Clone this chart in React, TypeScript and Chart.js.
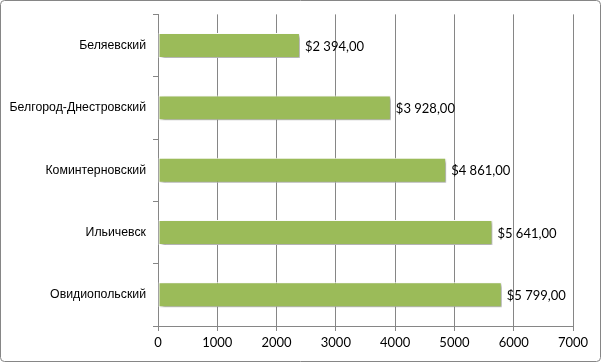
import React, { useEffect, useRef } from "react";
import { Chart, registerables } from "chart.js";

Chart.register(...registerables);

const categories = ["Беляевский", "Белгород-Днестровский", "Коминтерновский", "Ильичевск", "Овидиопольский"];
const values = [2394, 3928, 4861, 5641, 5799];
const valueLabels = ["$2 394,00", "$3 928,00", "$4 861,00", "$5 641,00", "$5 799,00"];
const xMin = 0;
const xMax = 7000;
const xStep = 1000;

const FONT = "Lato, 'Liberation Sans', Arial, sans-serif";
const FSIZE = 13;
const CAT_FONT = "'Liberation Sans', Arial, sans-serif";
const CAT_FSIZE = 12.3;
const GRID = "#868686";

export default function App() {
  const ref = useRef<HTMLCanvasElement | null>(null);

  useEffect(() => {
    if (!ref.current) return;
    const shadowPlugin = {
      id: "barShadow",
      beforeDatasetDraw(chart: any) {
        const ctx = chart.ctx;
        ctx.save();
        ctx.shadowColor = "rgba(0,0,0,0.4)";
        ctx.shadowBlur = 3;
        ctx.shadowOffsetX = 2;
        ctx.shadowOffsetY = 2;
      },
      afterDatasetDraw(chart: any) {
        chart.ctx.restore();
      },
    };
    const labelsPlugin = {
      id: "valueLabels",
      afterDatasetsDraw(chart: any) {
        const ctx = chart.ctx;
        const meta = chart.getDatasetMeta(0);
        ctx.save();
        ctx.font = `${FSIZE}px ${FONT}`;
        ctx.fillStyle = "#000";
        ctx.textAlign = "left";
        ctx.textBaseline = "middle";
        meta.data.forEach((el: any, i: number) => {
          ctx.fillText(valueLabels[i], el.x + 5, el.y + 1);
        });
        ctx.restore();
      },
    };
    const borderPlugin = {
      id: "outerBorder",
      afterDraw(chart: any) {
        const ctx = chart.ctx;
        ctx.save();
        ctx.strokeStyle = GRID;
        ctx.lineWidth = 1;
        ctx.beginPath();
        ctx.roundRect(0.5, 0.5, chart.width - 1, chart.height - 1, 4);
        ctx.stroke();
        ctx.restore();
      },
    };
    const chart = new Chart(ref.current, {
      type: "bar",
      data: {
        labels: categories,
        datasets: [
          {
            data: values,
            backgroundColor: "#9BBB59",
            borderColor: "#ffffff",
            borderWidth: 1,
            borderSkipped: false,
            barPercentage: 0.4,
            categoryPercentage: 1,
          },
        ],
      },
      options: {
        indexAxis: "y",
        animation: false,
        responsive: false,
        maintainAspectRatio: false,
        layout: { padding: { left: 0, right: 28, top: 14, bottom: 0 } },
        plugins: { legend: { display: false }, tooltip: { enabled: false } },
        scales: {
          x: {
            min: xMin,
            max: xMax,
            ticks: {
              stepSize: xStep,
              color: "#000",
              font: { family: FONT, size: FSIZE },
              padding: 4,
              callback: (v: any) => String(v),
            },
            grid: { color: GRID, tickLength: 5, drawTicks: true },
            border: { color: GRID },
            afterFit(scale: any) {
              scale.height = 36;
            },
          },
          y: {
            ticks: { color: "#000", font: { family: CAT_FONT, size: CAT_FSIZE }, padding: 7 },
            grid: { color: GRID, drawOnChartArea: false, drawTicks: true, tickLength: 5, offset: true },
            border: { color: GRID },
            afterFit(scale: any) {
              scale.width = 158;
            },
          },
        },
      },
      plugins: [shadowPlugin, labelsPlugin, borderPlugin],
    });
    return () => chart.destroy();
  }, []);

  return (
    <div style={{ position: "absolute", left: 0, top: 0, width: 601, height: 362, background: "#fff" }}>
      <canvas ref={ref} width={601} height={362} style={{ width: 601, height: 362, display: "block" }} />
    </div>
  );
}
